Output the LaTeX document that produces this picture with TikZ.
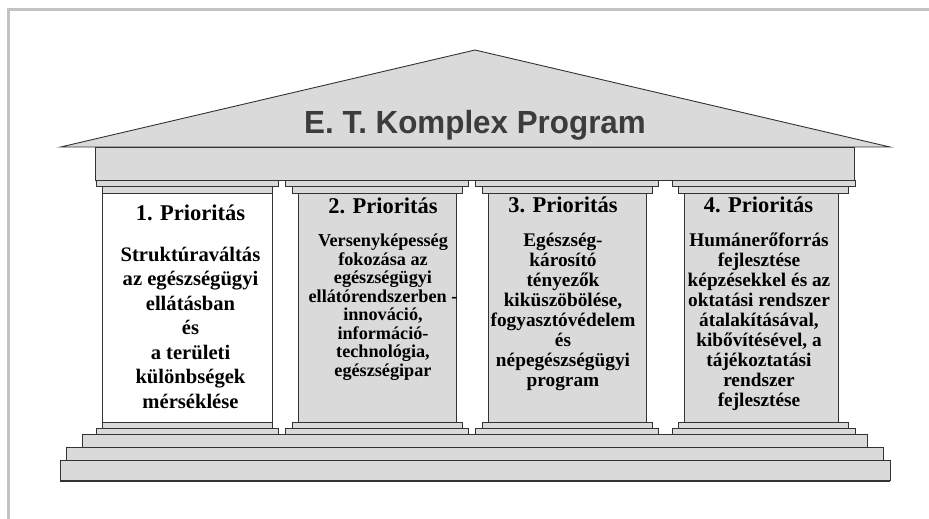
\documentclass[tikz,border=0pt]{standalone}
\usepackage{fontspec}
\setmainfont{Liberation Serif}
\newfontfamily\titlefont[FakeStretch=0.98]{Liberation Sans}
\newfontfamily\serifb{Liberation Serif}
\definecolor{stone}{HTML}{DADADA}
\definecolor{edge}{HTML}{333333}
\definecolor{framegray}{HTML}{C3C3C3}
\definecolor{titlegray}{HTML}{3C3C3C}
\begin{document}
\begin{tikzpicture}[x=1pt,y=-1pt,
  part/.style={draw=edge,fill=stone,line width=0.9pt},
  whitepart/.style={draw=edge,fill=white,line width=0.9pt},
  frameline/.style={draw=framegray,line width=2.6pt},
  titletext/.style={font=\titlefont\bfseries\fontsize{32}{36}\selectfont,text=titlegray,inner sep=0pt,anchor=base},
  headtext/.style={font=\serifb\bfseries\fontsize{22.5}{24}\selectfont,inner sep=0pt},
  bodyA/.style={font=\serifb\bfseries\fontsize{20.6}{24.5}\selectfont,inner sep=0pt,align=center},
  bodyB/.style={font=\serifb\bfseries\fontsize{18.2}{18.5}\selectfont,inner sep=0pt,align=center},
  bodyC/.style={font=\serifb\bfseries\fontsize{19.3}{20}\selectfont,inner sep=0pt,align=center}]
\useasboundingbox (0,0) rectangle (929,519);
% frame of the screenshot
\draw[frameline] (8.7,519) -- (8.7,9.7) -- (929,9.7);
% roof
\draw[part] (60.7,147) -- (475,50) -- (890,147) -- cycle;
% entablature
\draw[part] (95.7,147) rectangle (854.7,180);
% columns
\foreach \wl/\wr/\nl/\nr/\sl/\sr/\sty in {96/278/102/272/102/272/whitepart, 285/468/292/462/298/456/part, 475/658/482/652/488/646/part, 672/855/678/848/684/838/part} {
  \draw[part] (\wl,180) rectangle (\wr,186.5);
  \draw[part] (\nl,186.5) rectangle (\nr,193);
  \draw[\sty] (\sl,193) rectangle (\sr,422);
  \draw[part] (\nl,422) rectangle (\nr,428);
  \draw[part] (\wl,428) rectangle (\wr,434.3);
}
% steps
\draw[part] (82.3,434.3) rectangle (867.3,447.7);
\draw[part] (66.3,447.7) rectangle (883.7,460.7);
\draw[part] (60.3,460.7) rectangle (890,480.7);
\draw[edge,line width=1.8pt] (60.3,480.7) -- (890,480.7);
% texts
\node[titletext] (title) at (475,133) {E. T. Komplex Program};
\node[headtext] (h1) at (190.5,213) {1. Prioritás};
\node[headtext] (h2) at (383,206) {2. Prioritás};
\node[headtext] (h3) at (563,205) {3. Prioritás};
\node[headtext] (h4) at (758.5,205) {4. Prioritás};
\node[bodyA] (b1) at (190.5,327.5) {Struktúraváltás\\az egészségügyi\\ellátásban\\és\\a területi\\különbségek\\mérséklése};
\node[bodyB] (b2) at (383,307) {Versenyképesség\\fokozása az\\egészségügyi\\ellátórendszerben -\\innováció,\\információ-\\technológia,\\egészségipar};
\node[bodyC] (b3) at (563,312) {Egészség-\\károsító\\tényezők\\kiküszöbölése,\\fogyasztóvédelem\\és\\népegészségügyi\\program};
\node[bodyC] (b4) at (759,321.5) {Humánerőforrás\\fejlesztése\\képzésekkel és az\\oktatási rendszer\\átalakításával,\\kibővítésével, a\\tájékoztatási\\rendszer\\fejlesztése};
\end{tikzpicture}
\end{document}
